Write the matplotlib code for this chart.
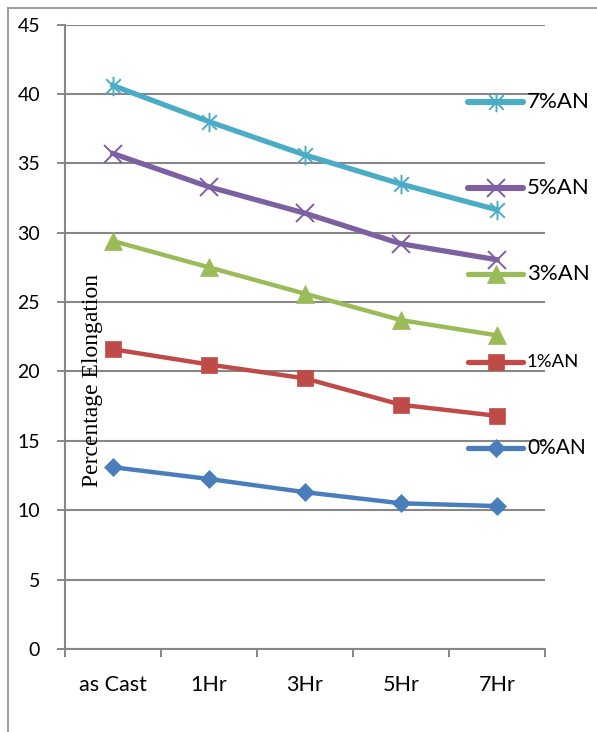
import matplotlib
matplotlib.use("Agg")
import matplotlib.pyplot as plt
from matplotlib.path import Path
from matplotlib.lines import Line2D

# Heat-treatment stages and elongation (%) for each AN content
categories = ["as Cast", "1Hr", "3Hr", "5Hr", "7Hr"]
an_0 = [13.1, 12.25, 11.3, 10.5, 10.3]
an_1 = [21.6, 20.5, 19.5, 17.6, 16.8]
an_3 = [29.4, 27.5, 25.6, 23.7, 22.6]
an_5 = [35.7, 33.3, 31.4, 29.2, 28.05]
an_7 = [40.6, 38.0, 35.6, 33.5, 31.65]
series_labels = ["0%AN", "1%AN", "3%AN", "5%AN", "7%AN"]
y_ticks = [0, 5, 10, 15, 20, 25, 30, 35, 40, 45]

# Excel-style star marker: vertical bar plus an X
star = Path([(0, -1), (0, 1), (-0.75, -0.75), (0.75, 0.75), (-0.75, 0.75), (0.75, -0.75)],
            [Path.MOVETO, Path.LINETO, Path.MOVETO, Path.LINETO, Path.MOVETO, Path.LINETO])

styles = [
    dict(color="#4A7EBB", marker="D", ms=9, mew=0.5, lw=3.2),
    dict(color="#BE4B48", marker="s", ms=11, mew=0.5, lw=3.2),
    dict(color="#9BBB59", marker="^", ms=13, mew=0.5, lw=3.2),
    dict(color="#7D60A0", marker="x", ms=13, mew=1.4, lw=3.8),
    dict(color="#4BACC6", marker=star, ms=14, mew=1.4, lw=3.8),
]
legend_y = [0.322, 0.4596, 0.600, 0.738, 0.876]
legend_fs = [15, 13.3, 16, 16, 16]

fig = plt.figure(figsize=(5.97, 7.32), dpi=100)
ax = fig.add_axes([65 / 597, 1 - 649 / 732, 480 / 597, 624.5 / 732])

x = list(range(len(categories)))
for vals, st in zip([an_0, an_1, an_3, an_5, an_7], styles):
    ax.plot(x, vals, color=st["color"], lw=st["lw"], marker=st["marker"],
            ms=st["ms"], mew=st["mew"], mec=st["color"], mfc=st["color"],
            solid_joinstyle="round", zorder=3)

# Legend keys drawn down the right side
for lab, st, ly, fs in zip(series_labels, styles, legend_y, legend_fs):
    ax.add_line(Line2D([0.8396, 0.954], [ly, ly], transform=ax.transAxes,
                       color=st["color"], lw=st["lw"] + 0.6, solid_capstyle="round",
                       clip_on=False, zorder=4))
    ax.add_line(Line2D([0.898], [ly], transform=ax.transAxes, marker=st["marker"],
                       ms=st["ms"], mew=st["mew"], mec=st["color"], mfc=st["color"],
                       color=st["color"], clip_on=False, zorder=5))
    ax.text(0.9625, ly, lab, transform=ax.transAxes, fontsize=fs, family="Lato",
            va="center", ha="left", color="black", zorder=5, clip_on=False)

grid_c = "#878787"
ax.set_xlim(-0.5, len(categories) - 0.5)
ax.set_ylim(0, 45)
ax.set_yticks(y_ticks)
ax.set_yticklabels([str(v) for v in y_ticks], family="Lato", fontsize=14)
ax.set_xticks(x)
ax.set_xticklabels(categories, family="Lato", fontsize=15.5)
ax.set_xticks([i - 0.5 for i in range(len(categories) + 1)], minor=True)
ax.tick_params(axis="x", which="major", length=0, pad=19)
ax.tick_params(axis="x", which="minor", length=6, width=1.4, color=grid_c)
ax.tick_params(axis="y", length=6, width=1.4, color=grid_c, pad=12)
ax.yaxis.grid(True, color=grid_c, lw=1.5)
ax.set_axisbelow(True)
for s in ["top", "right"]:
    ax.spines[s].set_visible(False)
for s in ["left", "bottom"]:
    ax.spines[s].set_color(grid_c)
    ax.spines[s].set_linewidth(1.5)

ax.text(0.058, 0.43, "Percentage Elongation", transform=ax.transAxes, rotation=90,
        family="Liberation Serif", fontsize=17, ha="center", va="center", zorder=2)

# Outer frame edges (top and left)
fig.add_artist(Line2D([8 / 597, 1], [1 - 8 / 732, 1 - 8 / 732], color="#8c8c8c", lw=1.2))
fig.add_artist(Line2D([8 / 597, 8 / 597], [0, 1 - 8 / 732], color="#8c8c8c", lw=1.2))

fig.savefig("out.png", dpi=100)
